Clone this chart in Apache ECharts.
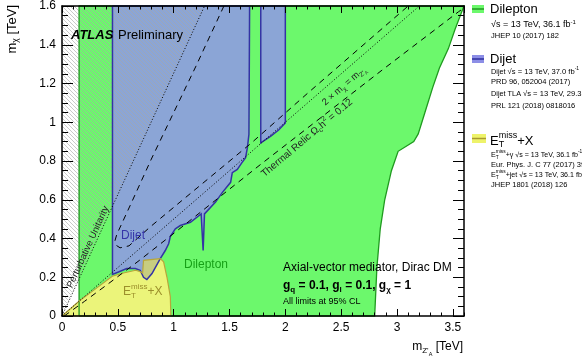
<!DOCTYPE html>
<html><head><meta charset="utf-8">
<script src="https://cdn.jsdelivr.net/npm/echarts@6/dist/echarts.min.js"></script>
<style>html,body{margin:0;padding:0;background:#fff}#c{width:582px;height:360px}</style>
</head><body><div id="c"></div>
<script>
// ---------------- DATA (TeV) ----------------
const xLabelTicks = [0, 0.5, 1, 1.5, 2, 2.5, 3, 3.5];
const yLabelTicks = [0, 0.2, 0.4, 0.6, 0.8, 1, 1.2, 1.4, 1.6];
const xRange = [0, 3.6];
const yRange = [0, 1.6];

// Dilepton excluded region (closed polygon)
const dileptonRegion = [[0.153,0],[2.80,0],[2.82,0.25],[2.85,0.45],[2.89,0.60],[2.95,0.75],[3.01,0.85],
  [3.15,0.90],[3.19,0.94],[3.25,1.05],[3.32,1.18],[3.38,1.28],[3.46,1.38],[3.52,1.48],[3.6,1.6],[0.153,1.6]];
// Dijet excluded regions
const dijetRegion = [[0.452,1.6],[0.452,0.215],[0.506,0.227],[0.58,0.245],[0.656,0.245],[0.70,0.236],
  [0.73,0.20],[0.76,0.188],[0.806,0.219],[0.88,0.296],[0.925,0.338],[0.955,0.373],[0.97,0.41],
  [1.015,0.45],[1.06,0.467],[1.15,0.484],[1.246,0.527],[1.264,0.338],[1.276,0.527],[1.375,0.588],
  [1.435,0.637],[1.51,0.69],[1.525,0.74],[1.57,0.757],[1.61,0.79],[1.644,0.817],[1.66,0.868],
  [1.674,0.937],[1.68,1.6]];
const dijetTLARegion = [[1.78,1.6],[1.78,0.894],[1.87,0.928],[1.94,0.96],[2.0,0.996],[2.0,1.6]];
// E_T^miss + X excluded region
const metRegion = [[0,0],[0.16,0.08],[0.30,0.14],[0.45,0.205],[0.55,0.222],[0.66,0.236],[0.70,0.229],
  [0.722,0.222],[0.73,0.287],[0.88,0.296],[0.91,0.28],[0.94,0.20],[0.97,0.10],[0.975,0]];
// overlap of E_T^miss+X and Dijet
const overlapRegion = [[0.722,0.222],[0.73,0.287],[0.88,0.296],[0.806,0.219],[0.76,0.188],[0.73,0.20]];
// Perturbative unitarity (m_chi > sqrt(pi/2) m_Z')
const unitarityLine = [[0,0],[1.2766,1.6]];
const unitarityRegion = [[0,0],[1.2766,1.6],[0,1.6]];
// 2 m_chi = m_Z'
const diagonalLine = [[0,0],[3.2,1.6]];
// Thermal relic curves
const relicLower = [[0.02,0],[0.2,0.075],[0.4,0.16],[0.7,0.29],[1.09,0.467],[1.78,0.783],[2.857,1.265],[3.55,1.57],[3.6,1.59]];
const relicUpper = [[1.45,1.6],[1.2,1.29],[1.0,1.05],[0.8,0.81],[0.626,0.59],[0.53,0.47],[0.49,0.42],
  [0.475,0.39],[0.485,0.365],[0.52,0.352],[0.6,0.362],[0.79,0.46],[1.03,0.575],[1.69,0.89],[2.2,1.15],[2.74,1.42],[3.1,1.6]];

// ---------------- helpers ----------------
const FF = '"Liberation Sans", Arial, Helvetica, sans-serif';
const mctx = document.createElement('canvas').getContext('2d');
function measure(p){ mctx.font = (p.st||'normal')+' '+(p.w||'normal')+' '+p.s+'px '+FF; return mctx.measureText(p.t).width; }
function mk(p, x, color){
  return {type:'text', x:x, y:p.dy||0, z:100,
    style:{text:p.t, fontSize:p.s, fontWeight:p.w||'normal', fontStyle:p.st||'normal', fontFamily:FF,
      fill:p.c||color, align:'left', verticalAlign:'middle'}};
}
function textGroup(parts, x, y, opts){
  opts = opts||{};
  const color = opts.color||'#000'; let cx = 0; const kids = [];
  parts.forEach(function(p){
    if (p.stack){ let mw=0; p.stack.forEach(function(q){ if(opts.w) q.w=q.w||opts.w; kids.push(mk(q,cx,color)); mw=Math.max(mw,measure(q)); }); cx+=mw; }
    else { if(opts.w) p.w=p.w||opts.w; kids.push(mk(p,cx,color)); cx+=measure(p); }
  });
  const off = opts.align==='center' ? -cx/2 : opts.align==='right' ? -cx : 0;
  kids.forEach(function(k){ k.x += off; });
  return {type:'group', x:x, y:y, rotation:(opts.rot||0)*Math.PI/180, z:100, children:kids};
}
function hatchPattern(){
  const c = document.createElement('canvas'); c.width=4; c.height=4;
  const g = c.getContext('2d'); g.strokeStyle='#a6a6a6'; g.lineWidth=0.6;
  g.beginPath(); g.moveTo(-1,-1); g.lineTo(5,5); g.moveTo(-1,3); g.lineTo(1,5); g.moveTo(3,-1); g.lineTo(5,1); g.stroke();
  return c;
}
const hatch = hatchPattern();
function polySeries(pts, style, z){
  return {type:'custom', coordinateSystem:'cartesian2d', xAxisIndex:0, yAxisIndex:0, silent:true, z:z,
    encode:{x:0,y:1}, data:pts,
    renderItem:function(params, api){
      if (params.dataIndex!==0) return null;
      return {type:'polygon', shape:{points:pts.map(function(p){return api.coord(p);})}, style:style};
    }};
}
function outlineSeries(pts, style, z, closed){
  return {type:'custom', coordinateSystem:'cartesian2d', xAxisIndex:0, yAxisIndex:0, silent:true, z:z,
    encode:{x:0,y:1}, data:pts,
    renderItem:function(params, api){
      if (params.dataIndex!==0) return null;
      const q = pts.map(function(p){return api.coord(p);}); if (closed) q.push(q[0]);
      return {type:'polyline', shape:{points:q}, style:Object.assign({fill:null}, style)};
    }};
}
function lineSeries(pts, dash, z){
  return {type:'line', xAxisIndex:0, yAxisIndex:0, data:pts, symbol:'none', silent:true, z:z, animation:false,
    lineStyle:{color:'#000', width:1, type:dash}};
}

// ---------------- axes ----------------
const lbl = {color:'#000', fontSize:12, fontFamily:FF};
function xAx(pos, interval, len, showLabel, showLine){
  return {type:'value', min:xRange[0], max:xRange[1], interval:interval, position:pos, z:10,
    axisLine:{show:showLine, onZero:false, lineStyle:{color:'#000', width:1.5}},
    axisTick:{show:true, inside:true, length:len, lineStyle:{color:'#000', width:1}},
    axisLabel:{show:showLabel, margin:6, showMaxLabel:false, ...lbl,
      formatter:function(v){ return xLabelTicks.indexOf(Math.round(v*10)/10)>=0 ? String(Math.round(v*10)/10) : ''; }},
    splitLine:{show:false}};
}
function yAx(pos, interval, len, showLabel, showLine){
  return {type:'value', min:yRange[0], max:yRange[1], interval:interval, position:pos, z:10,
    axisLine:{show:showLine, onZero:false, lineStyle:{color:'#000', width:1.5}},
    axisTick:{show:true, inside:true, length:len, lineStyle:{color:'#000', width:1}},
    axisLabel:{show:showLabel, margin:6, ...lbl,
      formatter:function(v){ const r=Math.round(v*10)/10; return yLabelTicks.indexOf(r)>=0 ? String(r) : ''; }},
    splitLine:{show:false}};
}

// ---------------- texts ----------------
const graphics = [];
function patch(x,y,w,h,fill,line){
  graphics.push({type:'rect', shape:{x:x,y:y,width:w,height:h}, style:{fill:fill}, z:100});
  graphics.push({type:'line', shape:{x1:x,y1:y+h/2,x2:x+w,y2:y+h/2}, style:{stroke:line, lineWidth:1.5}, z:101});
}
patch(472,5,12,8,'#6cf86c','#1f9a1f');
patch(472,55,12,8,'#8c8ee6','#2e2e9e');
patch(472,134,14,9,'#eef36a','#a89a30');
const LX = 491;
graphics.push(textGroup([{t:'Dilepton',s:13}], 490, 9));
graphics.push(textGroup([{t:'√s = 13 TeV, 36.1 fb',s:9},{t:'-1',s:6,dy:-3}], LX, 25));
graphics.push(textGroup([{t:'JHEP 10 (2017) 182',s:7.5}], LX, 35.5));
graphics.push(textGroup([{t:'Dijet',s:13}], 490, 59));
graphics.push(textGroup([{t:'Dijet ',s:7.3},{t:'√s = 13 TeV, 37.0 fb',s:7.6},{t:'-1',s:5,dy:-3}], LX, 71.5));
graphics.push(textGroup([{t:'PRD 96, 052004 (2017)',s:7.5}], LX, 81.5));
graphics.push(textGroup([{t:'Dijet TLA ',s:7.3},{t:'√s = 13 TeV, 29.3 fb',s:7.6},{t:'-1',s:5,dy:-3}], LX, 94));
graphics.push(textGroup([{t:'PRL 121 (2018) 0818016',s:7.5}], LX, 106));
graphics.push(textGroup([{t:'E',s:13},{stack:[{t:'miss',s:9,dy:-5},{t:'T',s:9,dy:4}]},{t:'+X',s:13}], 490, 141));
graphics.push(textGroup([{t:'E',s:7.2},{stack:[{t:'miss',s:4.8,dy:-3},{t:'T',s:4.8,dy:2.5}]},{t:'+γ √s = 13 TeV, 36.1 fb',s:7.1},{t:'-1',s:4.8,dy:-3}], LX, 155));
graphics.push(textGroup([{t:'Eur. Phys. J. C 77 (2017) 393',s:7.5}], LX, 165));
graphics.push(textGroup([{t:'E',s:7.2},{stack:[{t:'miss',s:4.8,dy:-3},{t:'T',s:4.8,dy:2.5}]},{t:'+jet √s = 13 TeV, 36.1 fb',s:7.1},{t:'-1',s:4.8,dy:-3}], LX, 175));
graphics.push(textGroup([{t:'JHEP 1801 (2018) 126',s:7.5}], LX, 185));
// in-plot labels
graphics.push(textGroup([{t:'ATLAS',s:13,w:'bold',st:'italic'}], 71, 35));
graphics.push(textGroup([{t:'Preliminary',s:13}], 118, 35));
graphics.push(textGroup([{t:'Dijet',s:12}], 133, 236, {align:'center', color:'#3535a8'}));
graphics.push(textGroup([{t:'Dilepton',s:12}], 206, 265, {align:'center', color:'#17a017'}));
graphics.push(textGroup([{t:'E',s:12},{stack:[{t:'miss',s:8,dy:-5},{t:'T',s:8,dy:4}]},{t:'+X',s:12}], 123, 292, {color:'#9c8f2c'}));
graphics.push(textGroup([{t:'Axial-vector mediator, Dirac DM',s:12}], 283, 268));
graphics.push(textGroup([{t:'g',s:12},{t:'q',s:8,dy:4},{t:' = 0.1, g',s:12},{t:'l',s:8,dy:4},{t:' = 0.1, g',s:12},{t:'χ',s:8,dy:4},{t:' = 1',s:12}], 283, 286, {w:'bold'}));
graphics.push(textGroup([{t:'All limits at 95% CL',s:9}], 283, 302));
graphics.push(textGroup([{t:'Perturbative Unitarity',s:9.5}], 88, 247, {align:'center', rot:65.5, color:'#222'}));
graphics.push(textGroup([{t:'2 × m',s:9.5},{t:'χ',s:6.5,dy:3},{t:' = m',s:9.5},{t:"Z'",s:6.5,dy:3},{t:'A',s:4.5,dy:5}], 344, 86, {align:'center', rot:41, color:'#222'}));
graphics.push(textGroup([{t:'Thermal Relic Ω',s:10},{t:'c',s:7,dy:3},{t:'h',s:10},{t:'2',s:7,dy:-4},{t:' = 0.12',s:10}], 307, 138, {align:'center', rot:40, color:'#222'}));
// axis titles
graphics.push(textGroup([{t:'m',s:13},{t:'χ',s:8.5,dy:4},{t:' [TeV]',s:13}], 12, 5, {align:'right', rot:90}));
graphics.push(textGroup([{t:'m',s:12},{t:"Z'",s:8,dy:4},{t:'A',s:5.5,dy:7},{t:' [TeV]',s:12}], 463, 347, {align:'right'}));

// ---------------- chart ----------------
const chart = echarts.init(document.getElementById('c'), null, {renderer:'canvas', width:582, height:360});
chart.setOption({
  animation:false,
  backgroundColor:'#fff',
  grid:{left:62, right:118, top:4, bottom:44, containLabel:false},
  xAxis:[xAx('bottom',0.5,7,true,true), xAx('bottom',0.1,3.5,false,false), xAx('top',0.5,7,false,true), xAx('top',0.1,3.5,false,false)],
  yAxis:[yAx('left',0.2,11,true,true), yAx('left',0.05,6,false,false), yAx('right',0.2,11,false,true), yAx('right',0.05,6,false,false)],
  series:[
    polySeries(dileptonRegion, {fill:'#6cf86c'}, 1),
    polySeries(dijetRegion, {fill:'#8ba5d6'}, 2),
    polySeries(dijetTLARegion, {fill:'#8ba5d6'}, 2),
    polySeries(metRegion, {fill:'#ebf47a'}, 3),
    polySeries(overlapRegion, {fill:'#c8cd80'}, 3),
    polySeries(unitarityRegion, {fill:{image:hatch, repeat:'repeat'}}, 4),
    outlineSeries(dileptonRegion, {stroke:'#1f9a1f', lineWidth:1.3}, 5, true),
    outlineSeries(dijetRegion, {stroke:'#3434a4', lineWidth:1.5}, 5, true),
    outlineSeries(dijetTLARegion, {stroke:'#3434a4', lineWidth:1.5}, 5, true),
    outlineSeries(metRegion, {stroke:'#b8a63a', lineWidth:1.2}, 5, true),
    lineSeries(unitarityLine, [1,2], 6),
    lineSeries(diagonalLine, [1,2], 6),
    lineSeries(relicLower, [6,5], 6),
    lineSeries(relicUpper, [6,5], 6)
  ],
  graphic:graphics
});
</script></body></html>
